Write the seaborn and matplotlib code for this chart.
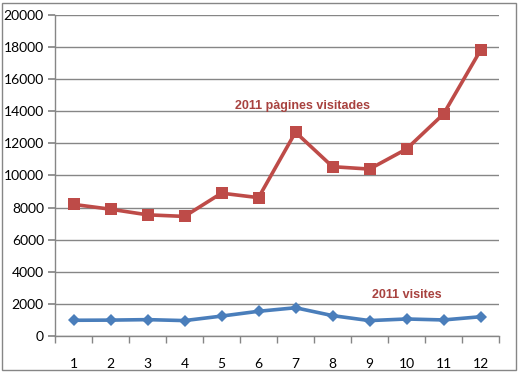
import matplotlib
matplotlib.use('Agg')
import matplotlib.pyplot as plt
import numpy as np
import pandas as pd
import seaborn as sns
from matplotlib.patches import Rectangle

months = list(range(1, 13))
pagines = [8200, 7900, 7550, 7450, 8900, 8620, 12700, 10550, 10400, 11650, 13830, 17800]
visites = [980, 990, 1020, 960, 1240, 1540, 1760, 1270, 960, 1060, 1000, 1200]
y_ticks = list(range(0, 20001, 2000))

RED = '#BE4B48'
BLUE = '#4A7EBB'
TEXT_RED = '#A8423F'

df = pd.DataFrame({
    'mes': months * 2,
    'valor': pagines + visites,
    'serie': ['2011 pàgines visitades'] * 12 + ['2011 visites'] * 12,
})

sns.set_theme(style='white')
plt.rcParams['font.family'] = ['Lato', 'DejaVu Sans']

fig = plt.figure(figsize=(5.19, 3.72), dpi=100)
ax = fig.add_axes([55 / 519, 36 / 372, 444 / 519, 321 / 372])

sns.lineplot(data=df, x='mes', y='valor', hue='serie', style='serie',
             palette=[RED, BLUE], markers=['s', 'D'], dashes=False,
             linewidth=2.6, markersize=8, markeredgewidth=0,
             legend=False, ax=ax)
# smaller diamonds for the visits series
ax.lines[1].set_markersize(6.5)

ax.set_xlim(0.5, 12.5)
ax.set_ylim(0, 20000)
ax.set_yticks(y_ticks)
ax.set_yticklabels([str(v) for v in y_ticks])
ax.set_xticks(months)
ax.set_xticklabels([str(m) for m in months])
ax.set_xticks(np.arange(0.5, 13, 1), minor=True)
ax.set_xlabel('')
ax.set_ylabel('')

ax.yaxis.grid(True, color='#868686', linewidth=1)
ax.set_axisbelow(True)
for side in ['top', 'right']:
    ax.spines[side].set_visible(False)
for side in ['left', 'bottom']:
    ax.spines[side].set_color('#868686')
    ax.spines[side].set_linewidth(1)

ax.tick_params(axis='y', which='major', left=True, length=5, color='#868686',
               labelsize=10, pad=3, labelcolor='black')
ax.tick_params(axis='x', which='major', bottom=False, labelsize=10, pad=10,
               labelcolor='black')
ax.tick_params(axis='x', which='minor', bottom=True, length=5, color='#868686')

ax.text(7.18, 14330, '2011 pàgines visitades', color=TEXT_RED, fontsize=9,
        fontweight='bold', family='Liberation Sans', ha='center', va='center')
ax.text(10.0, 2550, '2011 visites', color=TEXT_RED, fontsize=9,
        fontweight='bold', family='Liberation Sans', ha='center', va='center')

fig.patches.append(Rectangle((2 / 519, 2 / 372), 514 / 519, 367 / 372,
                             transform=fig.transFigure, fill=False,
                             edgecolor='#868686', linewidth=1))

fig.savefig('out.png', dpi=100)
